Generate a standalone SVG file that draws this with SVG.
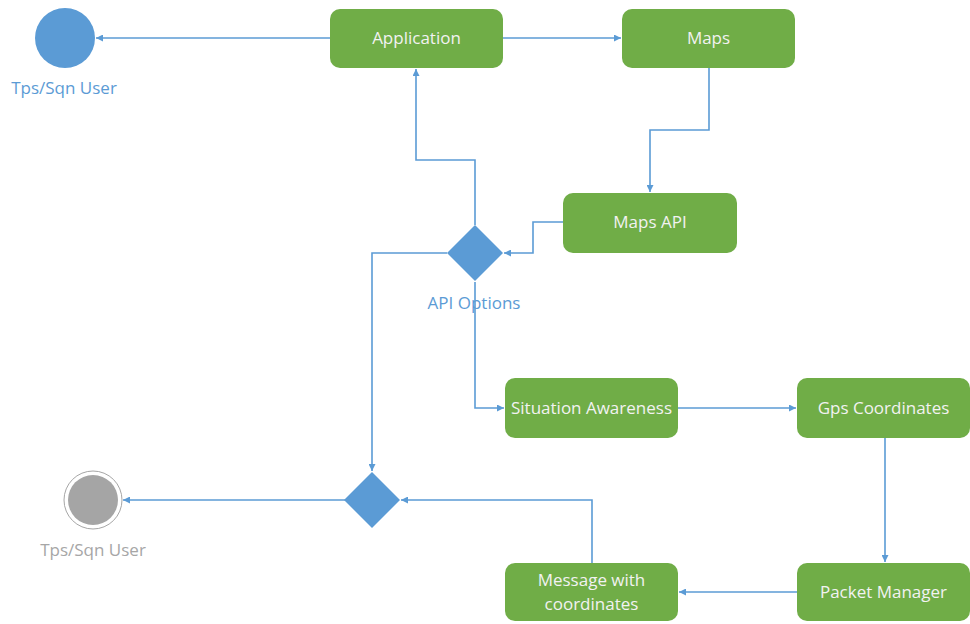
<svg xmlns="http://www.w3.org/2000/svg" width="970" height="624" viewBox="0 0 970 624">
  <style>
    .box { fill: #70AD47; }
    .box-text { font-family: "Open Sans", "Liberation Sans", sans-serif; font-size: 17px; fill: #F2F2F2; text-anchor: middle; }
    .decision { fill: #5B9BD5; }
    .edge { fill: none; stroke: #5B9BD5; stroke-width: 1.6; }
    .label { font-family: "Open Sans", "Liberation Sans", sans-serif; font-size: 17px; text-anchor: middle; }
  </style>
  <defs>
    <marker id="arrow" viewBox="0 0 10 10" refX="10" refY="5" markerWidth="8" markerHeight="7" markerUnits="userSpaceOnUse" orient="auto">
      <path d="M0,0 L10,5 L0,10 z" fill="#5B9BD5"/>
    </marker>
  </defs>

  <rect width="970" height="624" fill="#FFFFFF"/>

  <g id="connectors">
    <path class="edge" d="M330,38 H96" marker-end="url(#arrow)"/>
    <path class="edge" d="M503,38 H621" marker-end="url(#arrow)"/>
    <path class="edge" d="M709,68 V130 H650 V192" marker-end="url(#arrow)"/>
    <path class="edge" d="M563,222 H533 V253 H504" marker-end="url(#arrow)"/>
    <path class="edge" d="M475,225 V160 H416 V69" marker-end="url(#arrow)"/>
    <path class="edge" d="M447,253 H372 V471" marker-end="url(#arrow)"/>
    <path class="edge" d="M475,282 V408 H504" marker-end="url(#arrow)"/>
    <path class="edge" d="M678,408 H796" marker-end="url(#arrow)"/>
    <path class="edge" d="M885,438 V562" marker-end="url(#arrow)"/>
    <path class="edge" d="M797,592 H679" marker-end="url(#arrow)"/>
    <path class="edge" d="M592,563 V500 H401" marker-end="url(#arrow)"/>
    <path class="edge" d="M345,500 H123" marker-end="url(#arrow)"/>
  </g>

  <g id="start-user">
    <circle cx="65" cy="38" r="30" fill="#5B9BD5"/>
    <text class="label" x="64" y="94" fill="#5B9BD5">Tps/Sqn User</text>
  </g>

  <g id="application">
    <rect class="box" x="330" y="9" width="173" height="59" rx="10"/>
    <text class="box-text" x="416.5" y="44">Application</text>
  </g>

  <g id="maps">
    <rect class="box" x="622" y="9" width="173" height="59" rx="10"/>
    <text class="box-text" x="708.5" y="44">Maps</text>
  </g>

  <g id="maps-api">
    <rect class="box" x="563" y="193" width="174" height="60" rx="10"/>
    <text class="box-text" x="650" y="228">Maps API</text>
  </g>

  <g id="api-options">
    <path class="decision" d="M475,225 L503,253 L475,281 L447,253 z"/>
    <text class="label" x="474" y="309" fill="#5B9BD5">API Options</text>
  </g>

  <g id="situation-awareness">
    <rect class="box" x="505" y="378" width="173" height="60" rx="10"/>
    <text class="box-text" x="591.5" y="414">Situation Awareness</text>
  </g>

  <g id="gps-coordinates">
    <rect class="box" x="797" y="378" width="173" height="60" rx="10"/>
    <text class="box-text" x="883.5" y="414">Gps Coordinates</text>
  </g>

  <g id="packet-manager">
    <rect class="box" x="797" y="563" width="173" height="58" rx="10"/>
    <text class="box-text" x="883.5" y="598">Packet Manager</text>
  </g>

  <g id="message-with-coordinates">
    <rect class="box" x="505" y="563" width="173" height="58" rx="10"/>
    <text class="box-text" x="591.5" y="586">Message with</text>
    <text class="box-text" x="591.5" y="610">coordinates</text>
  </g>

  <g id="merge">
    <path class="decision" d="M372,472 L400,500 L372,528 L344,500 z"/>
  </g>

  <g id="end-user">
    <circle cx="93" cy="500" r="29" fill="#FFFFFF" stroke="#A6A6A6" stroke-width="1"/>
    <circle cx="93" cy="500" r="25" fill="#A5A5A5"/>
    <text class="label" x="93" y="556" fill="#A6A6A6">Tps/Sqn User</text>
  </g>
</svg>
